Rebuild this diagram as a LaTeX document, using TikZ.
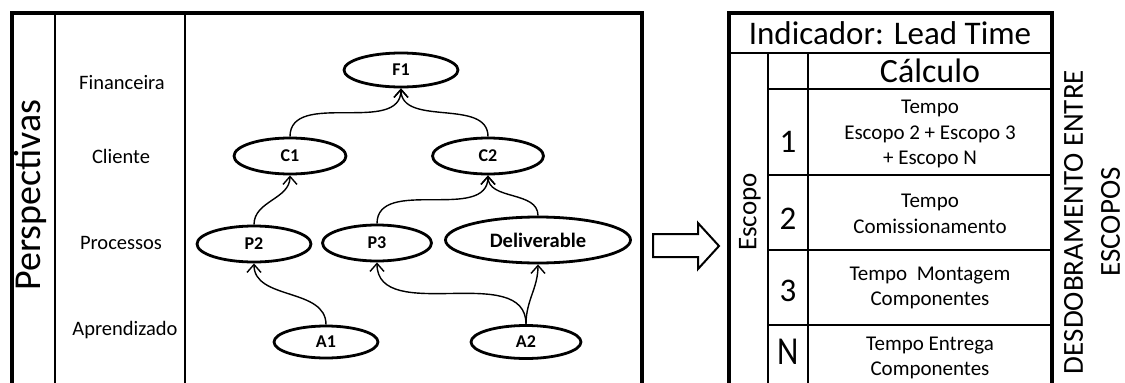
\documentclass[tikz,border=0pt]{standalone}
\usepackage{fontspec}
\setmainfont{Carlito}
\usetikzlibrary{shapes.geometric,arrows.meta}
\newcommand{\fsz}[1]{\fontsize{#1}{#1}\selectfont}
\tikzset{
  frame/.style={line width=3.2pt},
  rule/.style={line width=1.6pt},
  goal/.style={ellipse, draw, line width=2.8pt, inner sep=0pt, font=\bfseries\fsz{18}},
  link/.style={line width=1.4pt, -{Straight Barb[length=8pt,width=14pt,line width=1.4pt]}},
  rowlabel/.style={font=\fsz{20.5}},
  cell/.style={align=center, font=\fontsize{21}{25.5}\selectfont},
  digit/.style={font=\fsz{33}},
}
\begin{document}
\begin{tikzpicture}[x=1pt, y=-1pt]
\useasboundingbox (0,0) rectangle (1125,383);

% ---- perspectives map frame ----
\draw[frame] (12,383) -- (12,13) -- (642,13) -- (642,383);
\draw[rule] (55,13) -- (55,383);
\draw[rule] (185,13) -- (185,383);
\node[rotate=90, font=\fsz{38}] (persp) at (30,195) {Perspectivas};

\node[rowlabel] (lfin) at (122,83) {Financeira};
\node[rowlabel] (lcli) at (121,156) {Cliente};
\node[rowlabel] (lpro) at (121,243) {Processos};
\node[rowlabel] (lapr) at (125,330) {Aprendizado};

% ---- objectives ----
\node[goal, minimum width=114pt, minimum height=34pt] (F1) at (401,70) {F1};
\node[goal, minimum width=112pt, minimum height=36pt] (C1) at (290,156) {C1};
\node[goal, minimum width=111pt, minimum height=36pt] (C2) at (488,156) {C2};
\node[goal, minimum width=114pt, minimum height=36pt] (P2) at (254,244) {P2};
\node[goal, minimum width=109pt, minimum height=36pt] (P3) at (377,243) {P3};
\node[goal, minimum width=185pt, minimum height=46pt, font=\bfseries\fsz{20.5}] (DL) at (538,240) {Deliverable};
\node[goal, minimum width=104pt, minimum height=32pt] (A1) at (326,342) {A1};
\node[goal, minimum width=110pt, minimum height=33pt] (A2) at (526,342) {A2};

% ---- cause and effect links ----
\draw[link] (C1.north) to[out=90, in=-90] (F1.south);
\draw[link] (C2.north) to[out=90, in=-90] (F1.south);
\draw[link] (P2.north) to[out=90, in=-90] (C1.south);
\draw[link] (P3.north) to[out=90, in=-90] (C2.south);
\draw[link] (DL.north) to[out=90, in=-90] (C2.south);
\draw[link] (A1.north) to[out=90, in=-90] (P2.south);
\draw[link] (A2.north) to[out=90, in=-90] (P3.south);
\draw[link] (A2.north) to[out=90, in=-90] (DL.south);

% ---- block arrow ----
\draw[line width=2pt, line join=miter] (653,234) -- (698,234) -- (698,223) -- (719,246)
  -- (698,269) -- (698,257) -- (653,257) -- cycle;

% ---- indicator table ----
\draw[frame] (729,383) -- (729,13) -- (1052,13) -- (1052,383);
\draw[rule] (729,53) -- (1052,53);
\draw[rule] (768,53) -- (768,383);
\draw[rule] (808,53) -- (808,383);
\draw[rule] (768,89) -- (1052,89);
\draw[rule] (768,175) -- (1052,175);
\draw[rule] (768,250) -- (1052,250);
\draw[rule] (768,325) -- (1052,325);

\node[font=\fsz{33}] (ind) at (890,33) {Indicador: Lead Time};
\node[font=\fsz{34}] (calc) at (930,71) {Cálculo};
\node[rotate=90, font=\fsz{27}] (esc) at (750,212) {Escopo};

\node[digit] (n1) at (788,142) {1};
\node[digit] (n2) at (788,219) {2};
\node[digit] (n3) at (788,291) {3};
\node[digit, yscale=1.2] (nN) at (788,352) {N};

\node[cell] (t1) at (930,134) {Tempo\\Escopo 2 + Escopo 3\\+ Escopo N};
\node[cell] (t2) at (930,214) {Tempo\\Comissionamento};
\node[cell] (t3) at (930,288) {Tempo\ \ Montagem\\Componentes};
\node[cell] (t4) at (930,358) {Tempo Entrega\\Componentes};

\node[rotate=90, align=center, font=\fontsize{29}{37}\selectfont] (desd) at (1092,222)
  {DESDOBRAMENTO ENTRE\\ESCOPOS};
\end{tikzpicture}
\end{document}
